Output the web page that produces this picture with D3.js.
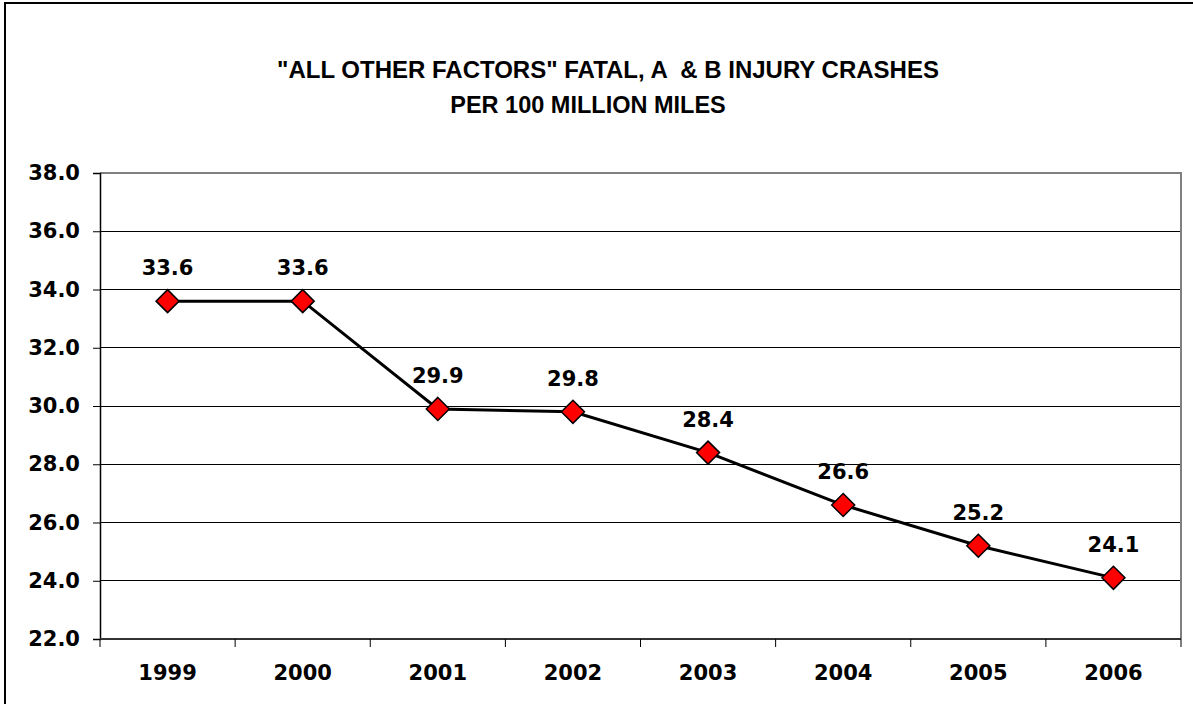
<!DOCTYPE html>
<html><head><meta charset="utf-8">
<script src="https://cdn.jsdelivr.net/npm/d3@7"></script>
<style>html,body{margin:0;padding:0;background:#fff;}svg{display:block;}</style>
</head><body>
<script>
const categories = ["1999","2000","2001","2002","2003","2004","2005","2006"];
const values = [33.6, 33.6, 29.9, 29.8, 28.4, 26.6, 25.2, 24.1];
const yTicks = [22,24,26,28,30,32,34,36,38];
const titleLines = ['"ALL OTHER FACTORS" FATAL, A  & B INJURY CRASHES', 'PER 100 MILLION MILES'];

const W = 1193, H = 704;
const svg = d3.select("body").append("svg").attr("width", W).attr("height", H);
svg.append("rect").attr("x",5).attr("y",3).attr("width",W).attr("height",H).attr("fill","#fff").attr("stroke","#000").attr("stroke-width",2);

const m = {left:100, right:1181, top:173, bottom:639};
const x = d3.scaleBand().domain(categories).range([m.left, m.right]).padding(0);
const y = d3.scaleLinear().domain([22,38]).range([m.bottom, m.top]);

const tf = "'Liberation Sans', Arial, sans-serif";
const lf = "'DejaVu Sans', Verdana, sans-serif";

svg.selectAll("text.title").data(titleLines).join("text").attr("class","title")
  .attr("x", (d,i)=> i===0 ? 608 : 588).attr("y", (d,i)=> i===0 ? 78 : 113)
  .attr("text-anchor","middle").attr("font-family",tf).attr("font-weight","bold")
  .attr("font-size",(d,i)=> i===0 ? 24 : 23.5).attr("xml:space","preserve").style("white-space","pre").text(d=>d);

// gridlines
svg.append("g").selectAll("line").data(yTicks.filter(t=>t>22 && t<38)).join("line")
  .attr("x1",m.left).attr("x2",m.right).attr("y1",d=>y(d)).attr("y2",d=>y(d))
  .attr("stroke","#000").attr("stroke-width",1).attr("shape-rendering","crispEdges");

// plot border top/right gray
svg.append("path").attr("d",`M${m.left},${m.top}H${m.right}V${m.bottom}`)
  .attr("fill","none").attr("stroke","#808080").attr("stroke-width",2);

// y axis
const yAxis = d3.axisLeft(y).tickValues(yTicks).tickSize(7).tickPadding(13).tickFormat(d3.format(".1f"));
const gy = svg.append("g").attr("transform",`translate(${m.left},0)`).call(yAxis);
gy.select(".domain").attr("stroke","#000").attr("stroke-width",1.5);
gy.selectAll(".tick line").attr("stroke","#000");
gy.selectAll("text").attr("font-family",lf).attr("font-weight","bold").attr("font-size",21).attr("fill","#000");

// x axis with boundary ticks
const gx = svg.append("g").attr("transform",`translate(0,${m.bottom})`);
gx.append("line").attr("x1",m.left).attr("x2",m.right).attr("stroke","#333").attr("stroke-width",2);
const bounds = categories.map(c=>x(c)).concat([m.right]);
gx.selectAll("line.tk").data(bounds).join("line").attr("class","tk")
  .attr("x1",d=>d).attr("x2",d=>d).attr("y1",0).attr("y2",8).attr("stroke","#000").attr("stroke-width",1);
gx.selectAll("text").data(categories).join("text")
  .attr("x",d=>x(d)+x.bandwidth()/2).attr("y",41).attr("text-anchor","middle")
  .attr("font-family",lf).attr("font-weight","bold").attr("font-size",21).text(d=>d);

// line
const pts = categories.map((c,i)=>({c, v:values[i]}));
svg.append("path").datum(pts)
  .attr("d", d3.line().x(d=>x(d.c)+x.bandwidth()/2).y(d=>y(d.v)))
  .attr("fill","none").attr("stroke","#000").attr("stroke-width",3);

const r = 11.5;
svg.selectAll("path.mk").data(pts).join("path").attr("class","mk")
  .attr("transform",d=>`translate(${x(d.c)+x.bandwidth()/2},${y(d.v)})`)
  .attr("d",`M0,${-r}L${r},0L0,${r}L${-r},0Z`)
  .attr("fill","#ff0000").attr("stroke","#000").attr("stroke-width",1.5);

svg.selectAll("text.lbl").data(pts).join("text").attr("class","lbl")
  .attr("x",d=>x(d.c)+x.bandwidth()/2).attr("y",d=>y(d.v)-26).attr("text-anchor","middle")
  .attr("font-family",lf).attr("font-weight","bold").attr("font-size",21).text(d=>d3.format(".1f")(d.v));
</script>
</body></html>
